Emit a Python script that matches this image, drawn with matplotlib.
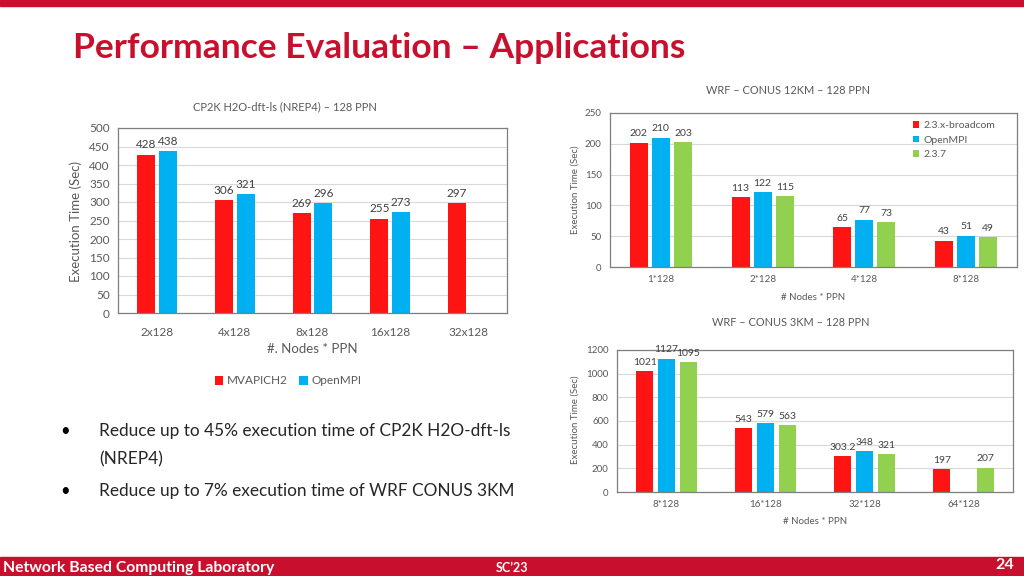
import matplotlib
matplotlib.use("Agg")
import matplotlib.pyplot as plt
import numpy as np
from matplotlib.patches import Rectangle

# ---------------- data ----------------
cp2k_cats = ["2x128", "4x128", "8x128", "16x128", "32x128"]
cp2k_mvapich2 = [428, 306, 269, 255, 297]
cp2k_openmpi = [438, 321, 296, 273, np.nan]

wrf12_cats = ["1*128", "2*128", "4*128", "8*128"]
wrf12_broadcom = [202, 113, 65, 43]
wrf12_openmpi = [210, 122, 77, 51]
wrf12_237 = [203, 115, 73, 49]

wrf3_cats = ["8*128", "16*128", "32*128", "64*128"]
wrf3_broadcom = [1021, 543, 303.2, 197]
wrf3_openmpi = [1127, 579, 348, np.nan]
wrf3_237 = [1095, 563, 321, 207]

RED = "#FF1414"
BLUE = "#00B0F0"
GREEN = "#92D050"
BRAND = "#C8102E"
TXT = "#595959"
LBL = "#404040"

plt.rcParams['font.family'] = ['Lato', 'DejaVu Sans']

W, H = 1024, 576
fig = plt.figure(figsize=(W / 100, H / 100), dpi=100)


def px_axes(left, top, right, bottom):
    return fig.add_axes([left / W, 1 - bottom / H, (right - left) / W, (bottom - top) / H])


def fx(x):
    return x / W


def fy(y):
    return 1 - y / H


def style_axes(ax, ymax, ystep, fs=8):
    ax.set_ylim(0, ymax)
    ax.set_yticks(np.arange(0, ymax + 1, ystep))
    ax.yaxis.grid(True, color="#D9D9D9", linewidth=0.8)
    ax.set_axisbelow(True)
    ax.tick_params(axis="both", length=0, colors=TXT, labelsize=fs, pad=6)
    for s in ax.spines.values():
        s.set_color("#7F7F7F")
        s.set_linewidth(0.9)


def label_bars(ax, bars, vals, fs=8):
    for b, v in zip(bars, vals):
        if v is None or (isinstance(v, float) and np.isnan(v)):
            continue
        txt = f"{v:g}"
        ax.annotate(txt, (b.get_x() + b.get_width() / 2, v), xytext=(0, 3),
                    textcoords="offset points", ha="center", va="bottom",
                    fontsize=fs, color=LBL)


# ---------------- slide decoration ----------------
fig.patches.append(Rectangle((0, fy(6)), 1, 6 / H, transform=fig.transFigure,
                             color=BRAND, zorder=0))
fig.patches.append(Rectangle((0, 0), 1, 19 / H, transform=fig.transFigure,
                             color=BRAND, zorder=0))
fig.text(fx(73), fy(48), "Performance Evaluation – Applications",
         fontsize=25.5, fontweight="bold", color=BRAND, va="center", ha="left")
fig.text(fx(3), fy(568), "Network Based Computing Laboratory", fontsize=11.3,
         fontweight="bold", color="white", va="center", ha="left")
fig.text(fx(512), fy(568), "SC’23", fontsize=9, fontweight="bold",
         color="white", va="center", ha="center")
fig.text(fx(1014), fy(565), "24", fontsize=11.5, fontweight="bold",
         color="white", va="center", ha="right")

# bullets
for y, t, bullet in [(431, "Reduce up to 45% execution time of CP2K H2O-dft-ls", True),
                     (459, "(NREP4)", False),
                     (491, "Reduce up to 7% execution time of WRF CONUS 3KM", True)]:
    if bullet:
        fig.text(fx(65), fy(y), "•", fontsize=12, color="black", va="center", ha="center")
    fig.text(fx(99), fy(y), t, fontsize=12.4, color="#262626", va="center", ha="left")

# ---------------- chart 1: CP2K ----------------
ax1 = px_axes(118, 128, 507, 313)
x = np.arange(len(cp2k_cats))
bw, off = 0.23, 0.14
b1 = ax1.bar(x - off, cp2k_mvapich2, bw, color=RED, label="MVAPICH2")
b2 = ax1.bar(x + off, cp2k_openmpi, bw, color=BLUE, label="OpenMPI")
ax1.set_xlim(-0.5, len(cp2k_cats) - 0.5)
style_axes(ax1, 500, 50, fs=8.5)
ax1.set_xticks(x, cp2k_cats)
ax1.tick_params(axis="x", pad=10)
label_bars(ax1, b1, cp2k_mvapich2, fs=8.5)
label_bars(ax1, b2, cp2k_openmpi, fs=8.5)
fig.text(fx(285), fy(107), "CP2K H2O-dft-ls (NREP4) – 128 PPN", fontsize=8,
         color=TXT, ha="center", va="center")
fig.text(fx(312), fy(349), "#. Nodes * PPN", fontsize=9.5, color=TXT,
         ha="center", va="center")
fig.text(fx(76), fy(221), "Execution Time (Sec)", fontsize=9.5, color=TXT,
         ha="center", va="center", rotation=90)
ax1.legend(loc="center", bbox_to_anchor=(fx(288), fy(381)), bbox_transform=fig.transFigure,
           ncol=2, frameon=False, fontsize=8.5, handlelength=0.7, handleheight=0.7,
           handletextpad=0.3, columnspacing=1.0, labelcolor=TXT)

# ---------------- chart 2: WRF 12KM ----------------
ax2 = px_axes(610, 113, 1017, 267)
x = np.arange(len(wrf12_cats))
bw, off = 0.177, 0.217
c1 = ax2.bar(x - off, wrf12_broadcom, bw, color=RED, label="2.3.x-broadcom")
c2 = ax2.bar(x, wrf12_openmpi, bw, color=BLUE, label="OpenMPI")
c3 = ax2.bar(x + off, wrf12_237, bw, color=GREEN, label="2.3.7")
ax2.set_xlim(-0.5, len(wrf12_cats) - 0.5)
style_axes(ax2, 250, 50, fs=7)
ax2.set_xticks(x, wrf12_cats)
label_bars(ax2, c1, wrf12_broadcom, fs=7.5)
label_bars(ax2, c2, wrf12_openmpi, fs=7.5)
label_bars(ax2, c3, wrf12_237, fs=7.5)
fig.text(fx(788), fy(90), "WRF – CONUS 12KM – 128 PPN", fontsize=7.9,
         color=TXT, ha="center", va="center")
fig.text(fx(813), fy(297), "# Nodes * PPN", fontsize=7, color=TXT,
         ha="center", va="center")
fig.text(fx(575), fy(190), "Execution Time (Sec)", fontsize=7, color=TXT,
         ha="center", va="center", rotation=90)
ax2.legend(loc="upper left", bbox_to_anchor=(fx(913), fy(121)), bbox_transform=fig.transFigure,
           frameon=False, fontsize=7.5, handlelength=0.6, handleheight=0.6,
           handletextpad=0.4, labelspacing=0.55, labelcolor=TXT, borderaxespad=0,
           borderpad=0)

# ---------------- chart 3: WRF 3KM ----------------
ax3 = px_axes(617, 350, 1013, 492)
x = np.arange(len(wrf3_cats))
bw, off = 0.175, 0.22
d1 = ax3.bar(x - off, wrf3_broadcom, bw, color=RED)
d2 = ax3.bar(x, wrf3_openmpi, bw, color=BLUE)
d3 = ax3.bar(x + off, wrf3_237, bw, color=GREEN)
ax3.set_xlim(-0.5, len(wrf3_cats) - 0.5)
style_axes(ax3, 1200, 200, fs=7)
ax3.set_xticks(x, wrf3_cats)
label_bars(ax3, d1, wrf3_broadcom, fs=7.5)
label_bars(ax3, d2, wrf3_openmpi, fs=7.5)
label_bars(ax3, d3, wrf3_237, fs=7.5)
fig.text(fx(791), fy(323), "WRF – CONUS 3KM – 128 PPN", fontsize=7.9,
         color=TXT, ha="center", va="center")
fig.text(fx(815), fy(522), "# Nodes * PPN", fontsize=7, color=TXT,
         ha="center", va="center")
fig.text(fx(575), fy(420), "Execution Time (Sec)", fontsize=7, color=TXT,
         ha="center", va="center", rotation=90)

fig.savefig("out.png", dpi=100)
